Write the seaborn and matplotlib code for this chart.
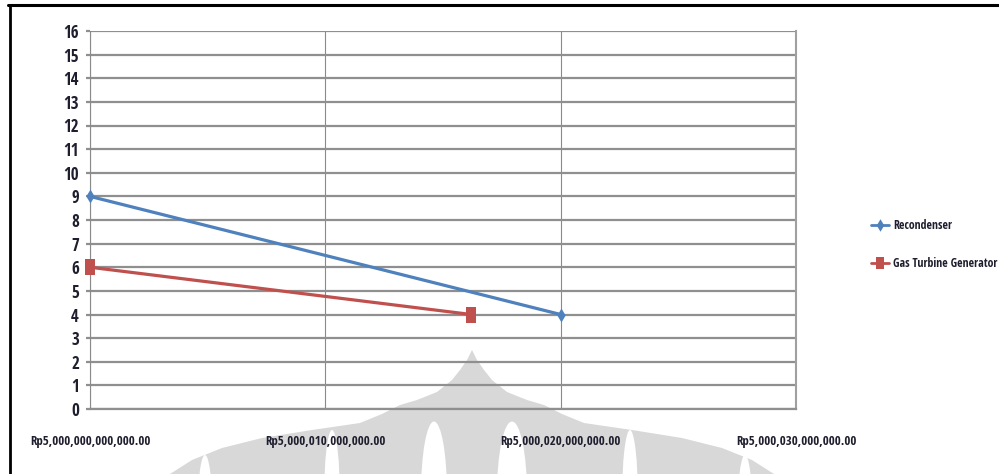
import os
import numpy as np
import pandas as pd
import matplotlib
matplotlib.use("Agg")
import matplotlib.pyplot as plt
from matplotlib import font_manager as fm
from matplotlib.font_manager import FontProperties
from matplotlib.textpath import TextPath
from matplotlib.path import Path
from matplotlib.patches import Polygon, Ellipse
from matplotlib.lines import Line2D
from matplotlib.ticker import FixedLocator, FuncFormatter
import seaborn as sns

# ---- data -------------------------------------------------------------
series_names = ["Recondenser", "Gas Turbine Generator"]
recondenser_cost = [5.000000e12, 5.000020e12]
recondenser_value = [9, 4]
gtg_cost = [5.000000e12, 5.0000162e12]
gtg_value = [6, 4]
x_ticks = [5.000000e12, 5.000010e12, 5.000020e12, 5.000030e12]
y_ticks = list(range(0, 17))

colors = {"Recondenser": "#4f81bd", "Gas Turbine Generator": "#c0504d"}

df = pd.DataFrame({
    "cost": recondenser_cost + gtg_cost,
    "value": recondenser_value + gtg_value,
    "series": [series_names[0]] * len(recondenser_cost) + [series_names[1]] * len(gtg_cost),
})


def money(v, pos=None):
    return f"Rp{v:,.2f}"


# ---- fonts ------------------------------------------------------------
sns.set_theme(style="white")
PX = 100 / 72  # pixels per point at 100 dpi


def extents(text, fp, size=10):
    p = fp.copy()
    p.set_size(size)
    return TextPath((0, 0), text, prop=p).get_extents()


def width_to_cap(fp):
    return extents(money(x_ticks[0]), fp).width / extents("H", fp).height


# pick the bold sans face whose proportions are closest to a narrow label face
families = ("DejaVu Sans", "Liberation Sans", "Noto Sans", "Roboto", "Open Sans", "Lato", "Inter")
best_fp, best_score = None, None
seen = set()
for f in fm.fontManager.ttflist:
    if f.fname in seen or not f.name.startswith(families):
        continue
    if "Mono" in f.name or "CJK" in f.name or "Display" in f.name:
        continue
    try:
        w = int(f.weight)
    except (TypeError, ValueError):
        w = 700 if "bold" in str(f.weight).lower() else 400
    if w < 600 or w > 800 or f.style != "normal":
        continue
    seen.add(f.fname)
    fp = FontProperties(fname=f.fname)
    try:
        score = abs(width_to_cap(fp) - 11.5)
    except Exception:
        continue
    if best_score is None or score < best_score:
        best_fp, best_score = fp, score
if best_fp is None:
    best_fp = FontProperties(family="DejaVu Sans", stretch="condensed", weight="bold")


def sized(text, width_px, cap_px, max_width_px=None):
    """Size that balances the wanted width and cap height of `text`."""
    w = extents(text, best_fp).width * PX / 10
    h = extents("H", best_fp).height * PX / 10
    size = np.sqrt((width_px / w) * (cap_px / h))
    if max_width_px is not None:
        size = min(size, max_width_px / w)
    fp = best_fp.copy()
    fp.set_size(size)
    return fp


ytick_fp = sized("16", 15, 11.5)
xtick_fp = sized(money(x_ticks[0]), 110, 10)
legend_fp = sized("Gas Turbine Generator", 102, 12, max_width_px=104)
text_color = "#1e1e2e"

fig = plt.figure(figsize=(9.99, 4.74), dpi=100, facecolor="white")

# faint logo watermark printed behind the chart
wm = fig.add_axes([0, 0, 1, 1], zorder=-1)
wm.set_xlim(0, 999)
wm.set_ylim(474, 0)
wm.axis("off")
cx = 472
outline = [(0, 350), (5, 360), (12, 370), (20, 380), (35, 392), (55, 400), (72, 405),
           (90, 414), (112, 423), (160, 430), (210, 438), (250, 448), (280, 460), (302, 474)]
pts = [(cx - dx, y) for dx, y in outline[::-1]] + [(cx + dx, y) for dx, y in outline[1:]]
pts = pts + [(cx + 310, 480), (cx - 310, 480)]
wm.add_patch(Polygon(pts, closed=True, facecolor="#d8d8d8", edgecolor="none"))
for ex, ey, ew, eh in [(434, 494, 26, 145), (512, 494, 30, 145),
                       (332, 500, 16, 140), (630, 500, 16, 140),
                       (205, 505, 14, 100), (745, 505, 14, 100)]:
    wm.add_patch(Ellipse((ex, ey), ew, eh, facecolor="white", edgecolor="none"))

# frame around the figure
fig.add_artist(Line2D([8 / 999, 1.0], [1 - 5 / 474, 1 - 5 / 474], transform=fig.transFigure,
                      color="black", lw=2.2))
fig.add_artist(Line2D([9.5 / 999, 9.5 / 999], [0, 1 - 5 / 474], transform=fig.transFigure,
                      color="black", lw=2.0))

ax = fig.add_axes([90 / 999, 1 - 409 / 474, 706 / 999, 378 / 474])
ax.set_facecolor("none")

# tall markers
tall_diamond = Path([(0, 0.5), (0.3, 0), (0, -0.5), (-0.3, 0), (0, 0.5)],
                    [Path.MOVETO, Path.LINETO, Path.LINETO, Path.LINETO, Path.CLOSEPOLY])
tall_square = Path([(-0.28, -0.5), (0.28, -0.5), (0.28, 0.5), (-0.28, 0.5), (-0.28, -0.5)],
                   [Path.MOVETO, Path.LINETO, Path.LINETO, Path.LINETO, Path.CLOSEPOLY])
markers = {"Recondenser": tall_diamond, "Gas Turbine Generator": tall_square}
sizes = {"Recondenser": 10, "Gas Turbine Generator": 12}

for name in series_names:
    sub = df[df["series"] == name]
    sns.lineplot(data=sub, x="cost", y="value", ax=ax, color=colors[name],
                 lw=2.3, marker=markers[name], markersize=sizes[name],
                 markeredgewidth=0, label=name, zorder=3, clip_on=False)

ax.set_xlim(x_ticks[0], x_ticks[-1])
ax.set_ylim(y_ticks[0], y_ticks[-1])
ax.xaxis.set_major_locator(FixedLocator(x_ticks))
ax.yaxis.set_major_locator(FixedLocator(y_ticks))
ax.xaxis.set_major_formatter(FuncFormatter(money))
ax.set_xlabel("")
ax.set_ylabel("")

ax.grid(axis="y", color="#8f8f8f", lw=1.6)
ax.grid(axis="x", color="#8a8a8a", lw=0.8)
ax.set_axisbelow(True)
ax.spines["top"].set_visible(False)
ax.spines["right"].set_color("#a0a0a0")
ax.spines["right"].set_linewidth(1.5)
ax.spines["left"].set_color("#8a8a8a")
ax.spines["left"].set_linewidth(0.8)
ax.spines["bottom"].set_color("#8f8f8f")
ax.spines["bottom"].set_linewidth(1.6)

ax.tick_params(axis="y", which="major", left=True, length=3, width=1.6, color="#8f8f8f",
               pad=5, labelcolor=text_color)
ax.tick_params(axis="x", which="major", bottom=False, length=0, pad=19,
               labelcolor=text_color)
for lab in ax.get_yticklabels():
    lab.set_fontproperties(ytick_fp)
for lab in ax.get_xticklabels():
    lab.set_fontproperties(xtick_fp)

leg = ax.legend(loc="upper left", bbox_to_anchor=(866 / 999, 1 - 214 / 474),
                bbox_transform=fig.transFigure, frameon=False, handlelength=1.5,
                handletextpad=0.35, labelspacing=2.1, borderaxespad=0,
                prop=legend_fp)
for t in leg.get_texts():
    t.set_color(text_color)
for h in leg.legend_handles:
    h.set_markersize(9)
    h.set_linewidth(2)

fig.savefig("out.png", dpi=100, facecolor="white")
